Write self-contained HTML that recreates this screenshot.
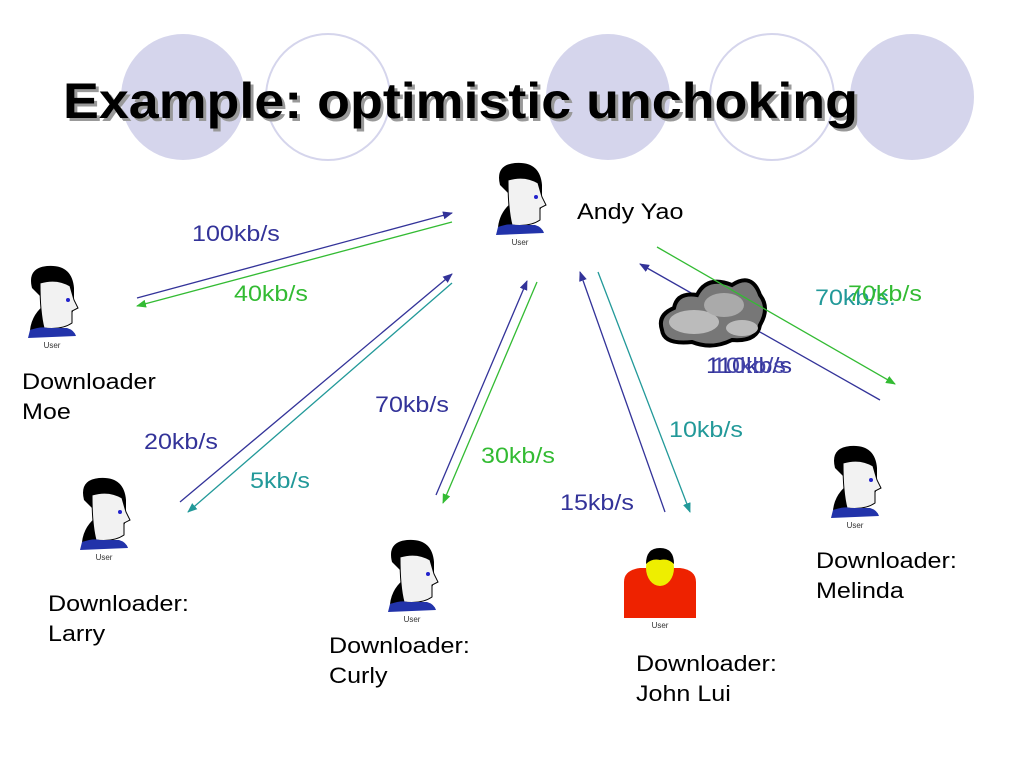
<!DOCTYPE html>
<html><head><style>
body{margin:0;width:1024px;height:768px;background:#fff;overflow:hidden;position:relative;font-family:"Liberation Sans",sans-serif}
.t{position:absolute;font-size:22px;white-space:nowrap;transform:scaleX(1.14);transform-origin:0 0}
.k{color:#000;line-height:30px}
.n{color:#333399}.g{color:#33bb33}.c{color:#229999}
</style></head><body>
<svg width="1024" height="768" style="position:absolute;left:0;top:0">
<defs>
<marker id="an" markerWidth="10" markerHeight="8" refX="9" refY="4" orient="auto" markerUnits="userSpaceOnUse"><path d="M0,0L10,4L0,8z" fill="#333399"/></marker>
<marker id="ag" markerWidth="10" markerHeight="8" refX="9" refY="4" orient="auto" markerUnits="userSpaceOnUse"><path d="M0,0L10,4L0,8z" fill="#33bb33"/></marker>
<marker id="ac" markerWidth="10" markerHeight="8" refX="9" refY="4" orient="auto" markerUnits="userSpaceOnUse"><path d="M0,0L10,4L0,8z" fill="#229999"/></marker>
<g id="u">
<path d="M-22,22 Q-20,5 -5,-5 L-20,-20 Q-25,-40 -5,-42 Q20,-44 22,-20 L22,0 Q18,15 5,18 Z" fill="#000"/>
<path d="M-12,-25 Q5,-30 18,-22 L22,-8 L26,0 L20,3 L20,15 Q10,22 -8,20 Q-12,5 -12,-25Z" fill="#f2f2f2" stroke="#000" stroke-width="1"/>
<circle cx="16" cy="-8" r="2" fill="#22c"/>
<path d="M-22,22 Q-10,18 -5,20 L15,20 Q22,22 24,28 L-24,30 Z" fill="#2233aa"/>
<text x="0" y="40" font-size="8" text-anchor="middle" fill="#333">User</text>
</g>
</defs>
<g fill="#d5d5ec">
<ellipse cx="183" cy="97" rx="62" ry="63"/><ellipse cx="608" cy="97" rx="62" ry="63"/><ellipse cx="912" cy="97" rx="62" ry="63"/>
</g>
<g fill="none" stroke="#d5d5ec" stroke-width="2">
<ellipse cx="328" cy="97" rx="62" ry="63"/><ellipse cx="772" cy="97" rx="62" ry="63"/>
</g>
<text x="66" y="121" font-size="50" font-weight="bold" fill="#999" textLength="795" lengthAdjust="spacingAndGlyphs">Example: optimistic unchoking</text>
<text x="63" y="118" font-size="50" font-weight="bold" fill="#000" textLength="795" lengthAdjust="spacingAndGlyphs">Example: optimistic unchoking</text>
<use href="#u" x="520" y="205"/>
<use href="#u" x="52" y="308"/>
<use href="#u" x="104" y="520"/>
<use href="#u" x="412" y="582"/>
<use href="#u" x="855" y="488"/>
<g transform="translate(660,590)">
<path d="M-36,-8 Q-36,-20 -20,-22 L20,-22 Q36,-20 36,-8 L36,28 L-36,28Z" fill="#ee2200"/>
<ellipse cx="0" cy="-22" rx="14" ry="18" fill="#eeee00"/>
<path d="M-14,-26 Q-14,-42 0,-42 Q14,-42 14,-26 Q8,-32 0,-30 Q-8,-32 -14,-26Z" fill="#000"/>
<text x="0" y="38" font-size="8" text-anchor="middle" fill="#333">User</text>
</g>
<g stroke-width="1.3">
<line x1="137" y1="298" x2="452" y2="213" stroke="#333399" marker-end="url(#an)"/>
<line x1="452" y1="222" x2="137" y2="306" stroke="#33bb33" marker-end="url(#ag)"/>
<line x1="180" y1="502" x2="452" y2="274" stroke="#333399" marker-end="url(#an)"/>
<line x1="452" y1="283" x2="188" y2="512" stroke="#229999" marker-end="url(#ac)"/>
<line x1="436" y1="495" x2="527" y2="281" stroke="#333399" marker-end="url(#an)"/>
<line x1="537" y1="282" x2="443" y2="503" stroke="#33bb33" marker-end="url(#ag)"/>
<line x1="665" y1="512" x2="580" y2="272" stroke="#333399" marker-end="url(#an)"/>
<line x1="598" y1="272" x2="690" y2="512" stroke="#229999" marker-end="url(#ac)"/>
<line x1="880" y1="400" x2="640" y2="264" stroke="#333399" marker-end="url(#an)"/>
</g>
<g transform="translate(712,320)">
<path d="M-50,10 Q-55,-5 -38,-12 Q-35,-28 -15,-25 Q-5,-45 20,-35 Q40,-48 48,-25 Q58,-12 48,5 Q45,22 20,20 Q0,30 -20,22 Q-48,25 -50,10Z" fill="#777" stroke="#000" stroke-width="4"/>
<ellipse cx="-18" cy="2" rx="25" ry="12" fill="#bbb"/>
<ellipse cx="12" cy="-15" rx="20" ry="12" fill="#aaa"/>
<ellipse cx="30" cy="8" rx="16" ry="8" fill="#bbb"/>
</g>
<line x1="657" y1="247" x2="895" y2="384" stroke="#33bb33" stroke-width="1.3" marker-end="url(#ag)"/>
</svg>
<div class="t n" style="left:192px;top:221px">100kb/s</div>
<div class="t g" style="left:234px;top:281px">40kb/s</div>
<div class="t n" style="left:144px;top:429px">20kb/s</div>
<div class="t c" style="left:250px;top:468px">5kb/s</div>
<div class="t n" style="left:375px;top:392px">70kb/s</div>
<div class="t g" style="left:481px;top:443px">30kb/s</div>
<div class="t n" style="left:560px;top:490px">15kb/s</div>
<div class="t c" style="left:669px;top:417px">10kb/s</div>
<div class="t c" style="left:815px;top:285px">70kb/s.</div>
<div class="t g" style="left:848px;top:281px">70kb/s</div>
<div class="t n" style="left:706px;top:353px">110kb/s</div>
<div class="t" style="left:712px;top:353px;color:#4444aa">10kb/s</div>
<div class="t k" style="left:577px;top:197px">Andy Yao</div>
<div class="t k" style="left:22px;top:367px">Downloader<br>Moe</div>
<div class="t k" style="left:48px;top:589px">Downloader:<br>Larry</div>
<div class="t k" style="left:329px;top:631px">Downloader:<br>Curly</div>
<div class="t k" style="left:636px;top:649px">Downloader:<br>John Lui</div>
<div class="t k" style="left:816px;top:546px">Downloader:<br>Melinda</div>
</body></html>
